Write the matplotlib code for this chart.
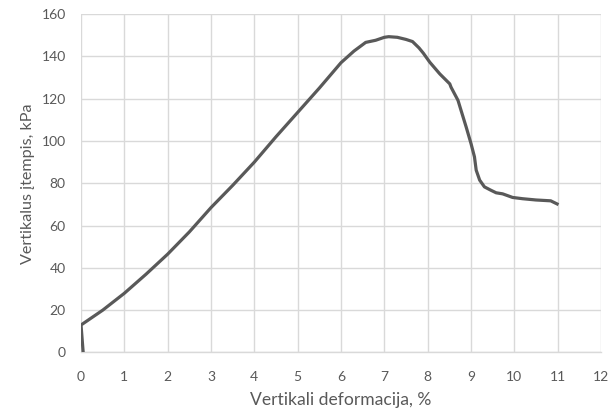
import matplotlib
matplotlib.use("Agg")
import matplotlib.pyplot as plt

# Vertical strain (%) and vertical stress (kPa)
deformacija = [0.05, 0.0, 0.5, 1.0, 1.5, 2.0, 2.5, 3.0, 3.5, 4.0, 4.5, 5.0, 5.5,
               6.0, 6.3, 6.57, 6.8, 7.0, 7.1, 7.3, 7.5, 7.65, 7.8, 7.9, 8.05,
               8.28, 8.51, 8.54, 8.70, 8.77, 8.89, 9.0, 9.08, 9.12, 9.20, 9.31,
               9.45, 9.58, 9.73, 9.96, 10.19, 10.5, 10.84, 10.9, 11.02]
itempis = [0, 13, 20, 28, 37, 46.5, 57, 68.5, 79, 90, 102, 113.5, 125,
           137, 142.5, 146.6, 147.6, 149.0, 149.3, 149.0, 148.0, 147.0, 144.0, 141.5, 137.2,
           131.7, 127.0, 125.4, 119.2, 114.5, 106.5, 98.8, 92.5, 86.2, 81.5, 78.3,
           76.8, 75.5, 75.0, 73.3, 72.7, 72.1, 71.7, 71.1, 69.9]

x_ticks = list(range(0, 13))
y_ticks = list(range(0, 161, 20))

plt.rcParams['font.family'] = ['Lato', 'DejaVu Sans']

fig = plt.figure(figsize=(6.11, 4.13), dpi=100)
ax = fig.add_axes([0.1326, 0.1465, 0.8510, 0.8195])

ax.plot(deformacija, itempis, color='#595959', linewidth=2.3,
        solid_joinstyle='round', solid_capstyle='butt', zorder=3)

ax.set_xlim(0, 12)
ax.set_ylim(0, 160)
ax.set_xticks(x_ticks)
ax.set_yticks(y_ticks)
ax.grid(True, color='#d9d9d9', linewidth=1.0)
ax.set_axisbelow(True)

for side in ['top', 'right', 'left']:
    ax.spines[side].set_visible(False)
ax.spines['bottom'].set_color('#d9d9d9')
ax.spines['bottom'].set_linewidth(1.0)

ax.tick_params(axis='both', length=0, colors='#595959', labelsize=10)
ax.tick_params(axis='x', pad=13.5)
ax.tick_params(axis='y', pad=11)
ax.set_xlabel('Vertikali deformacija, %', color='#595959', fontsize=12.6, labelpad=6)
ax.set_ylabel('Vertikalus įtempis, kPa', color='#595959', fontsize=11.6, labelpad=5)

fig.savefig('out.png', dpi=100)
